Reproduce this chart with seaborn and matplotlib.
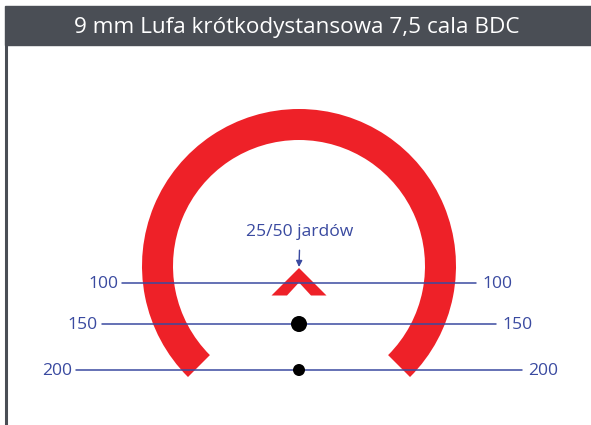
import matplotlib as mpl
mpl.use('Agg')
import matplotlib.pyplot as plt
from matplotlib.patches import Wedge, Polygon, Rectangle
import numpy as np
import pandas as pd
import seaborn as sns

# reticle data (pixel units of the 591x425 drawing, y pointing down)
title = '9 mm Lufa krótkodystansowa 7,5 cala BDC'
ranges = ['100', '150', '200']
range_y = [283, 324, 370]
range_halfwidth = [177, 197, 223]
dot_y = [324, 370]
dot_size = [16, 12]
zero_label = '25/50 jardów'
center_x = 299
arc_center_y = 266
arc_outer = 157
arc_inner = 126

red = '#ee2128'
blue = '#3a4aa0'
grey = '#4a4e55'

sns.set_style('white')
plt.rcParams['font.family'] = ['Open Sans', 'DejaVu Sans']

fig = plt.figure(figsize=(5.91, 4.25), dpi=100)
ax = fig.add_axes([0, 0, 1, 1])

# title bar + left border
ax.add_patch(Rectangle((5, 6), 586, 39, color=grey, zorder=1))
ax.plot([6, 6], [45, 425], color=grey, lw=2.2, zorder=1)
ax.text(297, 27, title, color='white', fontsize=16.2, ha='center', va='center', zorder=2)

# horseshoe
ax.add_patch(Wedge((center_x, arc_center_y), arc_outer, 135, 405,
                   width=arc_outer - arc_inner, color=red, lw=0, zorder=2))

# chevron (25/50 yd zero)
chev = [(271.5, 295.5), (299, 268), (326.5, 295.5), (311, 295.5), (299, 282.5), (287, 295.5)]
ax.add_patch(Polygon(chev, closed=True, color=red, lw=0, zorder=2))

# range lines
rows = []
for r, y, w in zip(ranges, range_y, range_halfwidth):
    rows.append({'range': r, 'x': center_x - w, 'y': y})
    rows.append({'range': r, 'x': center_x + w, 'y': y})
lines = pd.DataFrame(rows)
sns.lineplot(data=lines, x='x', y='y', units='range', estimator=None, sort=False,
             color=blue, lw=1.1, ax=ax, zorder=3, legend=False)

for r, y, w in zip(ranges, range_y, range_halfwidth):
    ax.text(center_x - w - 4, y + 1, r, color=blue, fontsize=12.6, ha='right', va='center')
    ax.text(center_x + w + 6, y + 1, r, color=blue, fontsize=12.6, ha='left', va='center')

# holdover dots
dots = pd.DataFrame({'x': [center_x] * len(dot_y), 'y': dot_y, 's': [d ** 2 * 0.52 for d in dot_size]})
sns.scatterplot(data=dots, x='x', y='y', size='s', sizes=(dots['s'].min(), dots['s'].max()),
                color='black', edgecolor='none', ax=ax, zorder=4, legend=False)

# zero annotation
ax.annotate(zero_label, xy=(center_x, 267), xytext=(center_x + 1, 232),
            color=blue, fontsize=12.6, ha='center', va='center',
            arrowprops=dict(arrowstyle='-|>', color=blue, lw=1, mutation_scale=9,
                            shrinkA=5, shrinkB=0))

ax.set_xlim(0, 591)
ax.set_ylim(425, 0)
ax.axis('off')

fig.savefig('out.png', dpi=100)
